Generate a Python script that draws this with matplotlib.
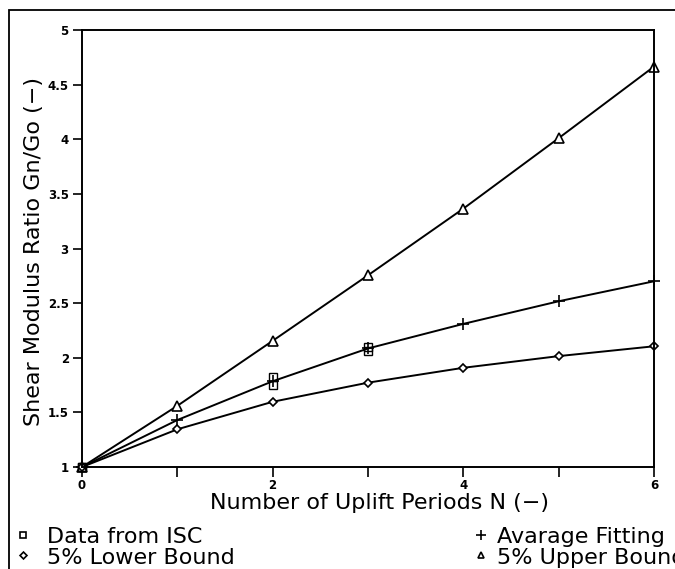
import matplotlib
matplotlib.use('Agg')
import matplotlib.pyplot as plt
from matplotlib.lines import Line2D
from matplotlib.patches import Rectangle

# values
n_periods = [0, 1, 2, 3, 4, 5, 6]
upper_bound = [1.0, 1.56, 2.155, 2.755, 3.365, 4.01, 4.665]
avg_fitting = [1.0, 1.43, 1.785, 2.085, 2.31, 2.517, 2.70]
lower_bound = [1.0, 1.345, 1.597, 1.772, 1.908, 2.015, 2.105]
isc_n = [0, 0, 2, 2, 3, 3]
isc_ratio = [1.0, 1.0, 1.825, 1.75, 2.10, 2.058]

xticks = [0, 1, 2, 3, 4, 5, 6]
xticklabels = ['0', '', '2', '', '4', '', '6']
yticks = [1, 1.5, 2, 2.5, 3, 3.5, 4, 4.5, 5]
yticklabels = ['1', '1.5', '2', '2.5', '3', '3.5', '4', '4.5', '5']

legend_left = ['Data from ISC', '5% Lower Bound']
legend_right = ['Avarage Fitting', '5% Upper Bound']

W, H = 675, 569
fig = plt.figure(figsize=(W / 100, H / 100), dpi=100)
ax = fig.add_axes([82 / W, 1 - 467 / H, 572 / W, 437 / H])

# outer frame (only left and top edges visible in the scan)
fig.patches.append(Rectangle((9 / W, -0.2), 1.2, 1 - 10 / H + 0.2,
                             transform=fig.transFigure, fill=False,
                             lw=1.3, ec='black'))

kw = dict(color='black', lw=1.4, mec='black', mfc='white', clip_on=False)
ax.plot(n_periods, upper_bound, marker='^', ms=7, mew=1.2, **kw)
ax.plot(n_periods, avg_fitting, marker='+', ms=9, mew=1.2, **kw)
ax.plot(n_periods, lower_bound, marker='D', ms=4.5, mew=1.2, **kw)
ax.plot(isc_n, isc_ratio, ls='none', marker='s', ms=6, mew=1.0,
        mec='black', mfc='none', clip_on=False)

tick_font = dict(fontsize=8.5, fontweight='bold')
ax.set_xlim(0, 6)
ax.set_ylim(1, 5)
ax.set_xticks(xticks)
ax.set_xticklabels(xticklabels, **tick_font)
ax.set_yticks(yticks)
ax.set_yticklabels(yticklabels, **tick_font)
ax.tick_params(axis='x', direction='out', length=7, width=1.2, pad=1.5)
ax.tick_params(axis='y', direction='out', length=6.5, width=1.2, pad=3)
for s in ax.spines.values():
    s.set_linewidth(1.4)

ax.set_xlabel('Number of Uplift Periods N (\u2212)', fontsize=16)
ax.xaxis.set_label_coords(0.52, -0.0595)
ax.set_ylabel('Shear Modulus Ratio Gn/Go (\u2212)', fontsize=16)
ax.yaxis.set_label_coords(-0.066, 0.492)

# legend below the axes, two columns
mk = dict(color='black', ls='none', mec='black', mfc='white', mew=1.2,
          transform=fig.transFigure)
rows = [535, 555]
baselines = [543, 564]
fig.add_artist(Line2D([23 / W], [1 - rows[0] / H], marker='s', ms=5, **mk))
fig.add_artist(Line2D([23 / W], [1 - rows[1] / H], marker='D', ms=3.5, **mk))
fig.add_artist(Line2D([481 / W], [1 - rows[0] / H], marker='+', ms=7, **mk))
fig.add_artist(Line2D([481 / W], [1 - rows[1] / H], marker='^', ms=5, **mk))
for i in range(2):
    fig.text(47 / W, 1 - baselines[i] / H, legend_left[i], fontsize=16,
             va='baseline', ha='left')
    fig.text(497 / W, 1 - baselines[i] / H, legend_right[i], fontsize=16,
             va='baseline', ha='left')

fig.savefig('out.png', dpi=100)
